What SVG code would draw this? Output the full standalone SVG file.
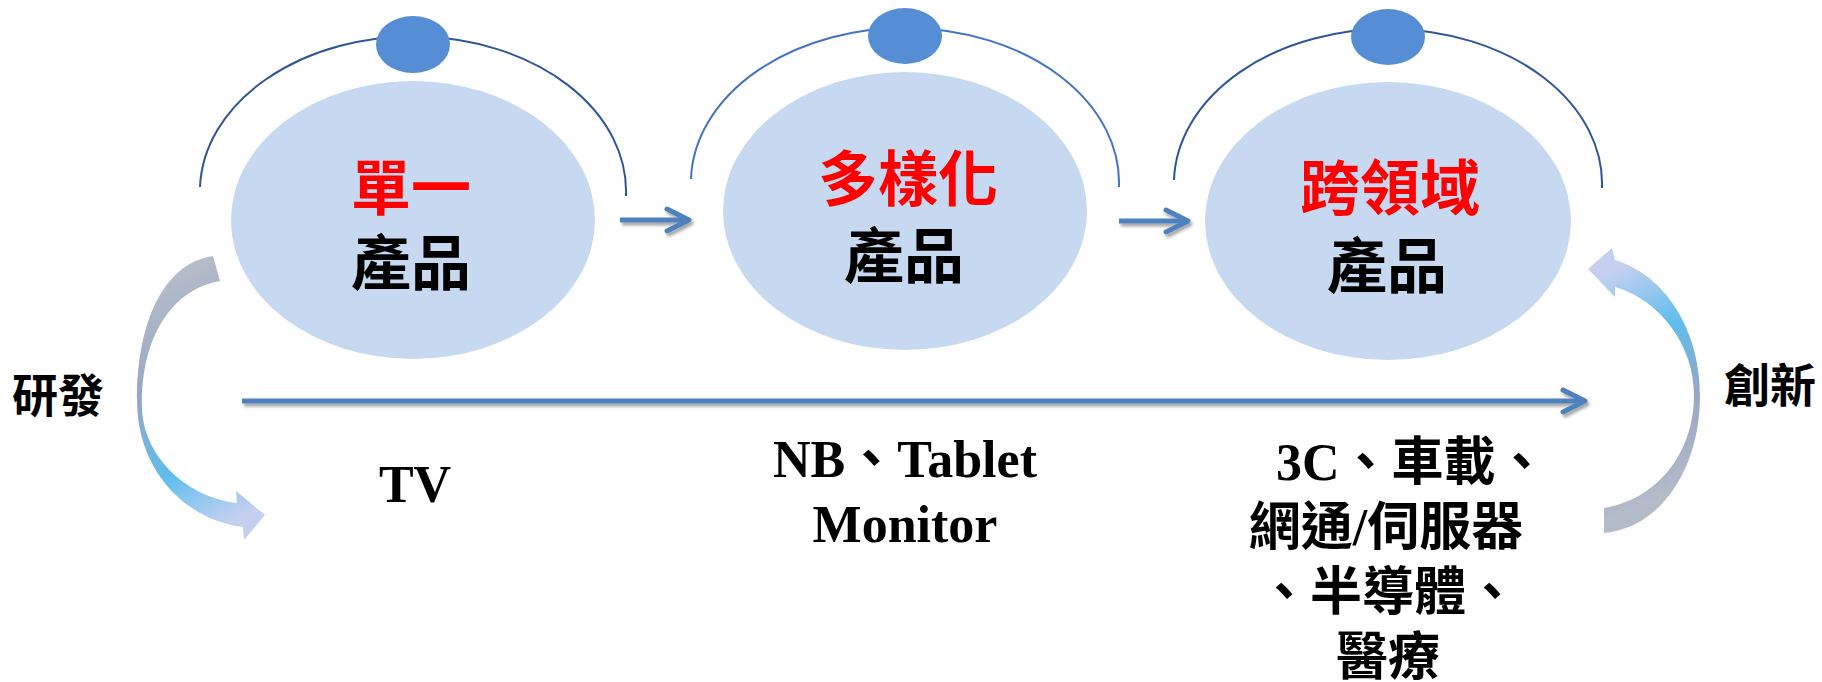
<svg xmlns="http://www.w3.org/2000/svg" width="1822" height="682" viewBox="0 0 1822 682">
<style>
.arc{fill:none;stroke:#2F5597;stroke-width:2}
.body{fill:#C6D9F1}
.dot{fill:#558ED5}
.title{font-family:"Noto Sans CJK TC","Noto Sans CJK SC",sans-serif;font-weight:bold;font-size:60px;fill:#FF0000;text-anchor:middle}
.sub{font-family:"Noto Sans CJK TC","Noto Sans CJK SC",sans-serif;font-weight:bold;font-size:60px;fill:#000;text-anchor:middle}
.lbl{font-family:"Liberation Serif","Noto Sans CJK TC",serif;font-weight:bold;font-size:52px;fill:#000}
.side{font-family:"Noto Sans CJK TC","Noto Sans CJK SC",sans-serif;font-weight:bold;font-size:46px;fill:#000;text-anchor:middle}
.conn{fill:none;stroke:#4F81BD;stroke-width:5}
</style>
<defs>
<marker id="chev" markerUnits="userSpaceOnUse" markerWidth="40" markerHeight="40" viewBox="-30 -20 40 40" refX="0" refY="0" orient="auto" overflow="visible">
<path d="M -22,-11 L 0,0 L -22,11" fill="none" stroke="#4F81BD" stroke-width="5" stroke-linejoin="round" stroke-linecap="round"/>
</marker>
<filter id="sh" filterUnits="userSpaceOnUse" x="0" y="0" width="1822" height="682">
<feDropShadow dx="2" dy="3" stdDeviation="1.5" flood-color="#000" flood-opacity="0.35"/>
</filter>
<linearGradient id="gl" gradientUnits="userSpaceOnUse" x1="140" y1="260" x2="265" y2="520">
<stop offset="0.1" stop-color="#B5BCC9"/>
<stop offset="0.43" stop-color="#97A7C4"/>
<stop offset="0.72" stop-color="#5FBDEE"/>
<stop offset="0.95" stop-color="#C5D0F0"/>
</linearGradient>
<linearGradient id="gr" gradientUnits="userSpaceOnUse" x1="1700" y1="530" x2="1590" y2="265">
<stop offset="0.15" stop-color="#B5BCC9"/>
<stop offset="0.44" stop-color="#97A7C4"/>
<stop offset="0.7" stop-color="#5FBDEE"/>
<stop offset="0.95" stop-color="#C5D0F0"/>
</linearGradient>
</defs>
<rect width="1822" height="682" fill="#FFFFFF"/>

<g id="node-1">
<path class="arc" d="M 200,187 A 213,155 0 0 1 626,196"/>
<ellipse class="body" cx="413" cy="220" rx="182" ry="139"/>
<ellipse class="dot" cx="413" cy="44.5" rx="37" ry="28.5"/>
<text class="title" x="411" y="210">單一</text>
<text class="sub" x="411" y="285">產品</text>
</g>

<g id="node-2">
<path class="arc" style="stroke:#4472C4" d="M 691,179 A 214,155 0 0 1 1119,187"/>
<ellipse class="body" cx="905" cy="211" rx="182" ry="139"/>
<ellipse class="dot" cx="905" cy="36" rx="37" ry="28"/>
<text class="title" x="908" y="201">多樣化</text>
<text class="sub" x="904" y="278">產品</text>
</g>

<g id="node-3">
<path class="arc" d="M 1174,180 A 214,155 0 0 1 1602,188"/>
<ellipse class="body" cx="1388" cy="221" rx="183" ry="139"/>
<ellipse class="dot" cx="1388" cy="37" rx="37" ry="28"/>
<text class="title" x="1390" y="210">跨領域</text>
<text class="sub" x="1387" y="288">產品</text>
</g>

<g id="connectors">
<g filter="url(#sh)">
<path class="conn" d="M 620,220 L 689,220" marker-end="url(#chev)"/>
<path class="conn" d="M 1119,221 L 1188,221" marker-end="url(#chev)"/>
<path class="conn" d="M 242,401 L 1585,401" marker-end="url(#chev)"/>
</g>
<path id="curve-rd" fill="url(#gl)" d="M 213,256 C 168,262 137,315 137,400 C 137,470 185,520 243,527 L 244,540 L 265,515 L 236,491 L 237,503 C 190,498 145,460 142,410 C 140,340 170,290 220,281 Z"/>
<path id="curve-inno" fill="url(#gr)" d="M 1604,533 C 1660,528 1700,470 1700,395 C 1700,330 1665,275 1615,260 L 1612,248 L 1588,269 L 1615,297 L 1615,287 C 1660,300 1694,345 1694,395 C 1694,455 1655,500 1604,508 Z"/>
</g>

<g id="labels">
<text class="side" x="58" y="412">研發</text>
<text class="side" x="1770" y="402">創新</text>
<text class="lbl" x="415" y="502" text-anchor="middle">TV</text>
<text class="lbl" x="905" y="477" text-anchor="middle">NB、Tablet</text>
<text class="lbl" x="905" y="542" text-anchor="middle">Monitor</text>
<text class="lbl" x="1276" y="480">3C、車載、</text>
<text class="lbl" x="1386" y="545" text-anchor="middle">網通/伺服器</text>
<text class="lbl" x="1388" y="610" text-anchor="middle">、半導體、</text>
<text class="lbl" x="1388" y="675" text-anchor="middle">醫療</text>
</g>
</svg>
